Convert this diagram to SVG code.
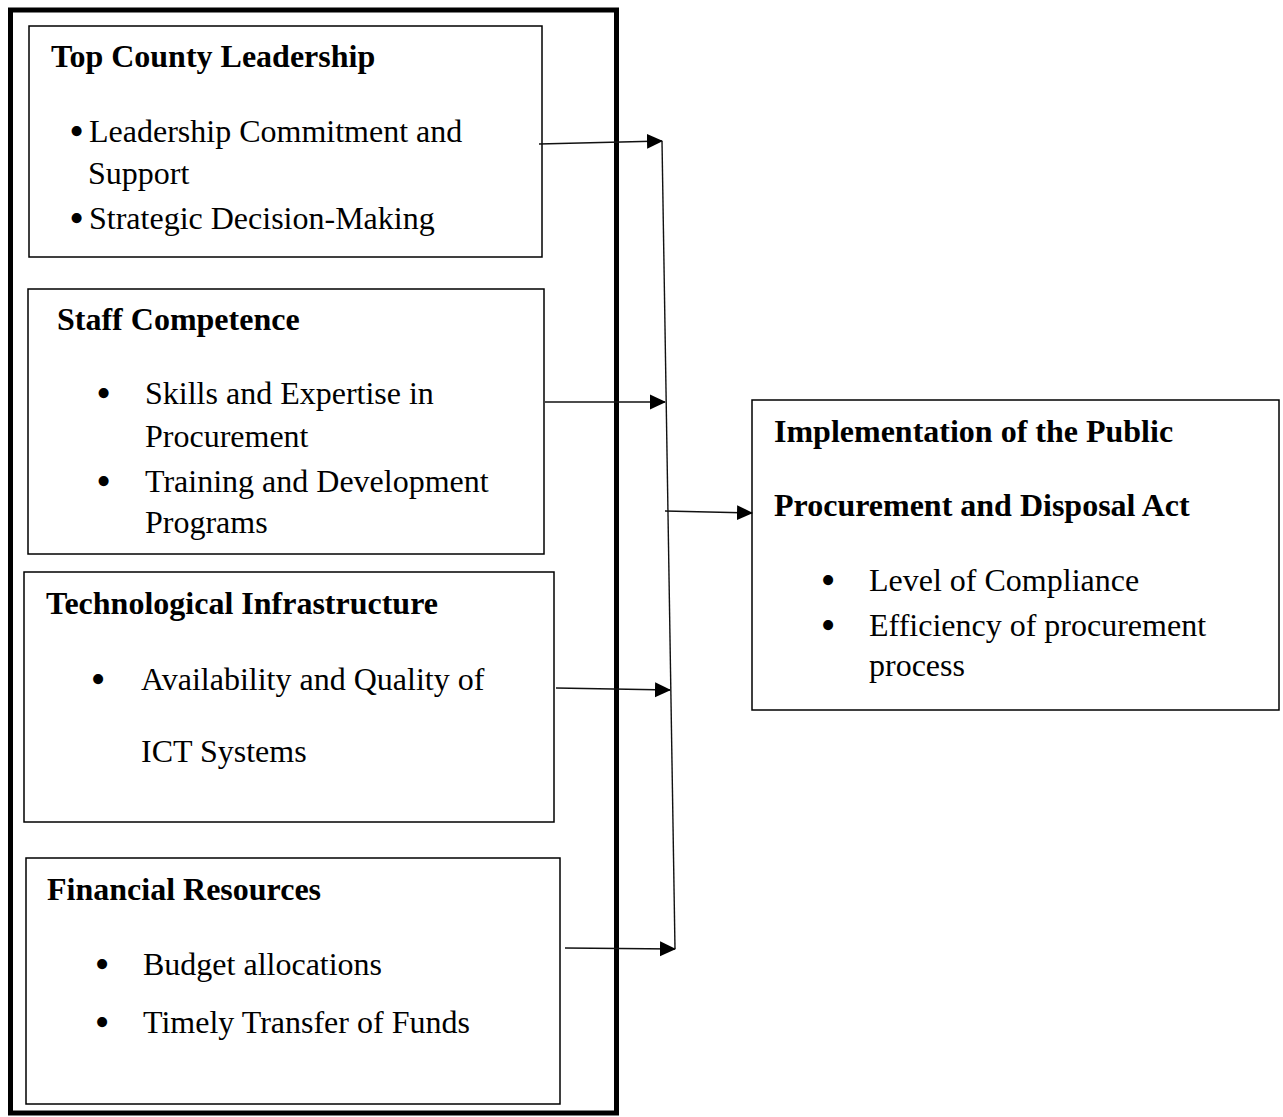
<svg xmlns="http://www.w3.org/2000/svg" width="1283" height="1117" viewBox="0 0 1283 1117">
  <style>
    text { font-family: "Liberation Serif", "Times New Roman", serif; font-size: 32px; fill: #000; }
    .title { font-weight: bold; }
    .bullet { text-anchor: middle; font-size: 42px; }
    .box { fill: #fff; stroke: #000; stroke-width: 1.5; }
    .frame { fill: none; stroke: #000; stroke-width: 5; }
    .conn { fill: none; stroke: #111; stroke-width: 1.4; }
  </style>
  <defs>
    <marker id="arrow" viewBox="0 0 16 16" refX="15" refY="8" markerWidth="16" markerHeight="16" markerUnits="userSpaceOnUse" orient="auto">
      <path d="M0,0.5 L16,8 L0,15.5 Z" fill="#000"/>
    </marker>
  </defs>

  <rect width="1283" height="1117" fill="#fff"/>

  <!-- enclosing frame around the independent variables -->
  <g id="independent-variables">
    <rect class="frame" x="10.5" y="10" width="606" height="1103"/>
  </g>

  <g id="top-county-leadership">
    <rect class="box" x="29" y="26" width="513" height="231"/>
    <text class="title" x="51" y="67">Top County Leadership</text>
    <text class="bullet" x="76.5" y="145">•</text>
    <text x="89" y="142">Leadership Commitment and</text>
    <text x="88" y="184">Support</text>
    <text class="bullet" x="76.5" y="232">•</text>
    <text x="89" y="229">Strategic Decision-Making</text>
  </g>

  <g id="staff-competence">
    <rect class="box" x="28" y="289" width="516" height="265"/>
    <text class="title" x="57" y="330">Staff Competence</text>
    <text class="bullet" x="103.5" y="407">•</text>
    <text x="145" y="404">Skills and Expertise in</text>
    <text x="145" y="447">Procurement</text>
    <text class="bullet" x="103.5" y="495">•</text>
    <text x="145" y="492">Training and Development</text>
    <text x="145" y="533">Programs</text>
  </g>

  <g id="technological-infrastructure">
    <rect class="box" x="24" y="572" width="530" height="250"/>
    <text class="title" x="46" y="614">Technological Infrastructure</text>
    <text class="bullet" x="98" y="693">•</text>
    <text x="141" y="690">Availability and Quality of</text>
    <text x="141" y="762">ICT Systems</text>
  </g>

  <g id="financial-resources">
    <rect class="box" x="26" y="858" width="534" height="246"/>
    <text class="title" x="47" y="900">Financial Resources</text>
    <text class="bullet" x="102" y="978">•</text>
    <text x="143" y="975">Budget allocations</text>
    <text class="bullet" x="102" y="1036">•</text>
    <text x="143" y="1033">Timely Transfer of Funds</text>
  </g>

  <g id="ppda-implementation">
    <rect class="box" x="752" y="400" width="527" height="310"/>
    <text class="title" x="774" y="442">Implementation of the Public</text>
    <text class="title" x="774" y="516">Procurement and Disposal Act</text>
    <text class="bullet" x="828" y="594">•</text>
    <text x="869" y="591">Level of Compliance</text>
    <text class="bullet" x="828" y="639">•</text>
    <text x="869" y="636">Efficiency of procurement</text>
    <text x="869" y="676">process</text>
  </g>

  <g id="connectors">
    <line class="conn" x1="539" y1="144" x2="662" y2="141" marker-end="url(#arrow)"/>
    <line class="conn" x1="545" y1="402" x2="665" y2="402" marker-end="url(#arrow)"/>
    <line class="conn" x1="556" y1="688" x2="670" y2="690" marker-end="url(#arrow)"/>
    <line class="conn" x1="565" y1="948" x2="675" y2="949" marker-end="url(#arrow)"/>
    <line class="conn" x1="662" y1="141" x2="675" y2="949"/>
    <line class="conn" x1="665" y1="511" x2="752" y2="513" marker-end="url(#arrow)"/>
  </g>
</svg>
